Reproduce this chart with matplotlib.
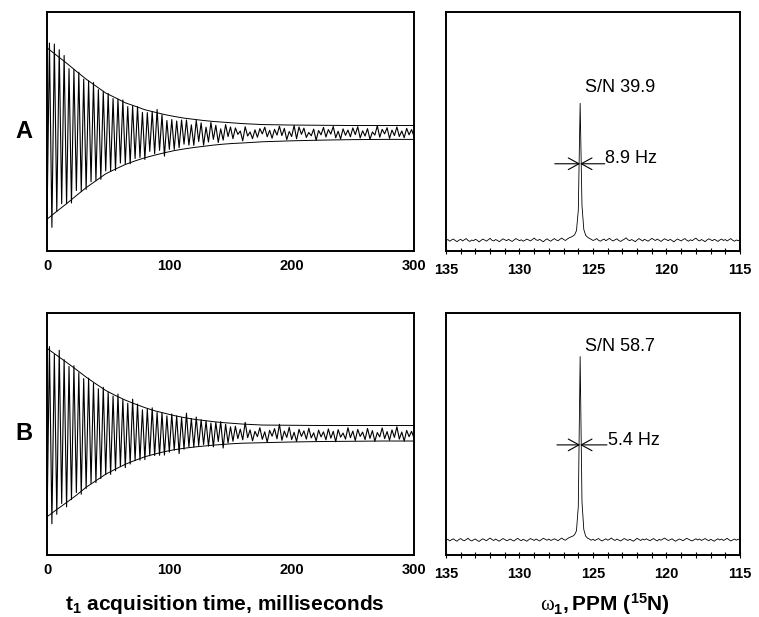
import numpy as np
import matplotlib
matplotlib.use("Agg")
import matplotlib.pyplot as plt

plt.rcParams['font.family'] = ['Liberation Sans', 'DejaVu Sans']
plt.rcParams['mathtext.fontset'] = 'custom'
plt.rcParams['mathtext.rm'] = 'Liberation Serif'
plt.rcParams['mathtext.bf'] = 'Liberation Sans:bold'
plt.rcParams['mathtext.it'] = 'Liberation Sans:italic'

# ---- time domain (FID) data ----
# extremes of the trace, one every 2 ms from 0 to 300 ms
fid_time = np.arange(151) * 2.0
fid_a = [0.116, 0.870, 0.099, 0.866, 0.166, 0.842, 0.198, 0.818, 0.198, 0.763,
         0.201, 0.760, 0.253, 0.748, 0.249, 0.719, 0.258, 0.712, 0.290, 0.705,
         0.294, 0.675, 0.300, 0.668, 0.335, 0.659, 0.333, 0.638, 0.337, 0.636,
         0.368, 0.632, 0.364, 0.604, 0.365, 0.607, 0.387, 0.604, 0.391, 0.580,
         0.383, 0.579, 0.417, 0.584, 0.407, 0.592, 0.421, 0.570, 0.397, 0.546,
         0.425, 0.550, 0.425, 0.544, 0.432, 0.548, 0.447, 0.548, 0.443, 0.528,
         0.442, 0.547, 0.458, 0.536, 0.443, 0.518, 0.456, 0.538, 0.467, 0.526,
         0.454, 0.511, 0.464, 0.529, 0.479, 0.519, 0.470, 0.515, 0.488, 0.502,
         0.461, 0.520, 0.481, 0.498, 0.470, 0.507, 0.476, 0.512, 0.490, 0.518,
         0.478, 0.505, 0.472, 0.509, 0.485, 0.522, 0.483, 0.513, 0.466, 0.500,
         0.479, 0.525, 0.470, 0.519, 0.488, 0.514, 0.475, 0.496, 0.482, 0.510,
         0.463, 0.504, 0.486, 0.517, 0.477, 0.508, 0.489, 0.521, 0.474, 0.501,
         0.469, 0.511, 0.484, 0.506, 0.478, 0.515, 0.487, 0.520, 0.473, 0.503,
         0.481, 0.512, 0.467, 0.498, 0.485, 0.524, 0.476, 0.509, 0.490, 0.516,
         0.471, 0.506, 0.483, 0.519, 0.479, 0.502, 0.474, 0.513, 0.486, 0.508,
         0.480]
fid_b = [0.120, 0.861, 0.129, 0.829, 0.168, 0.846, 0.213, 0.807, 0.199, 0.779,
         0.229, 0.782, 0.258, 0.753, 0.251, 0.729, 0.275, 0.731, 0.295, 0.710,
         0.299, 0.687, 0.316, 0.693, 0.332, 0.673, 0.333, 0.657, 0.348, 0.665,
         0.365, 0.643, 0.361, 0.627, 0.376, 0.644, 0.390, 0.624, 0.392, 0.600,
         0.394, 0.604, 0.410, 0.608, 0.411, 0.589, 0.412, 0.588, 0.413, 0.575,
         0.425, 0.583, 0.433, 0.575, 0.419, 0.568, 0.437, 0.586, 0.446, 0.564,
         0.446, 0.570, 0.452, 0.559, 0.456, 0.554, 0.450, 0.545, 0.447, 0.548,
         0.469, 0.551, 0.442, 0.540, 0.463, 0.530, 0.470, 0.532, 0.481, 0.520,
         0.476, 0.548, 0.485, 0.517, 0.472, 0.511, 0.489, 0.526, 0.478, 0.509,
         0.466, 0.515, 0.491, 0.522, 0.480, 0.540, 0.474, 0.512, 0.486, 0.528,
         0.477, 0.507, 0.469, 0.519, 0.490, 0.513, 0.479, 0.524, 0.484, 0.505,
         0.471, 0.516, 0.488, 0.509, 0.476, 0.521, 0.483, 0.511, 0.468, 0.518,
         0.487, 0.504, 0.479, 0.526, 0.485, 0.512, 0.473, 0.519, 0.490, 0.508,
         0.477, 0.523, 0.482, 0.514, 0.470, 0.506, 0.488, 0.525, 0.481, 0.510,
         0.474, 0.517, 0.486, 0.530, 0.479, 0.508, 0.471, 0.515, 0.489, 0.511,
         0.483]

# decay envelopes
env_time = [0, 8, 16, 24, 32, 40, 48, 56, 64, 72, 80, 88, 96, 104, 112, 120,
            128, 136, 144, 152, 160, 176, 200, 225, 250, 275, 300]
env_a_up = [0.850, 0.818, 0.786, 0.752, 0.719, 0.690, 0.661, 0.641, 0.620, 0.606,
            0.591, 0.581, 0.571, 0.563, 0.556, 0.551, 0.546, 0.542, 0.539, 0.536,
            0.533, 0.529, 0.527, 0.526, 0.525, 0.525, 0.525]
env_a_lo = [0.133, 0.166, 0.198, 0.232, 0.265, 0.294, 0.323, 0.343, 0.362, 0.377,
            0.390, 0.401, 0.411, 0.420, 0.427, 0.433, 0.438, 0.443, 0.447, 0.450,
            0.452, 0.457, 0.461, 0.464, 0.466, 0.467, 0.467]
env_b_up = [0.854, 0.825, 0.796, 0.766, 0.735, 0.707, 0.680, 0.659, 0.640, 0.624,
            0.609, 0.596, 0.586, 0.576, 0.568, 0.561, 0.556, 0.551, 0.547, 0.544,
            0.541, 0.537, 0.536, 0.535, 0.535, 0.535, 0.535]
env_b_lo = [0.158, 0.188, 0.217, 0.247, 0.280, 0.307, 0.334, 0.355, 0.375, 0.391,
            0.406, 0.417, 0.427, 0.435, 0.441, 0.446, 0.450, 0.454, 0.457, 0.460,
            0.462, 0.464, 0.467, 0.469, 0.470, 0.471, 0.471]

# ---- 15N spectra, 135 -> 115 ppm every 0.125 ppm ----
ppm = np.linspace(135, 115, 161)
spec_a = [0.043, 0.048, 0.041, 0.046, 0.050, 0.044, 0.039, 0.045, 0.049, 0.042,
          0.047, 0.052, 0.044, 0.040, 0.046, 0.043, 0.049, 0.045, 0.038, 0.044,
          0.050, 0.046, 0.041, 0.047, 0.053, 0.045, 0.042, 0.048, 0.044, 0.039,
          0.045, 0.051, 0.047, 0.043, 0.049, 0.044, 0.040, 0.046, 0.052, 0.048,
          0.043, 0.047, 0.041, 0.045, 0.050, 0.046, 0.042, 0.048, 0.054, 0.047,
          0.044, 0.049, 0.043, 0.039, 0.046, 0.051, 0.045, 0.041, 0.047, 0.052,
          0.046, 0.043, 0.049, 0.054, 0.048, 0.044, 0.050, 0.055, 0.058, 0.062,
          0.068, 0.085, 0.170, 0.618, 0.190, 0.090, 0.066, 0.058, 0.053, 0.049,
          0.044, 0.047, 0.052, 0.045, 0.041, 0.046, 0.050, 0.043, 0.048, 0.053,
          0.046, 0.042, 0.047, 0.051, 0.044, 0.040, 0.045, 0.049, 0.055, 0.047,
          0.043, 0.048, 0.044, 0.039, 0.046, 0.052, 0.047, 0.042, 0.049, 0.045,
          0.041, 0.047, 0.053, 0.048, 0.044, 0.050, 0.045, 0.040, 0.046, 0.051,
          0.047, 0.043, 0.049, 0.044, 0.038, 0.045, 0.050, 0.046, 0.042, 0.048,
          0.052, 0.045, 0.041, 0.047, 0.043, 0.049, 0.054, 0.046, 0.042, 0.048,
          0.044, 0.039, 0.046, 0.051, 0.047, 0.043, 0.049, 0.045, 0.040, 0.046,
          0.050, 0.044, 0.048, 0.042, 0.047, 0.052, 0.045, 0.041, 0.046, 0.043,
          0.047]
spec_b = [0.060, 0.065, 0.058, 0.063, 0.067, 0.061, 0.057, 0.064, 0.068, 0.062,
          0.059, 0.064, 0.069, 0.062, 0.058, 0.063, 0.066, 0.060, 0.056, 0.062,
          0.067, 0.063, 0.059, 0.065, 0.070, 0.064, 0.060, 0.066, 0.061, 0.057,
          0.063, 0.068, 0.064, 0.059, 0.062, 0.066, 0.061, 0.058, 0.064, 0.069,
          0.063, 0.059, 0.065, 0.061, 0.057, 0.063, 0.068, 0.064, 0.060, 0.066,
          0.062, 0.058, 0.064, 0.069, 0.065, 0.061, 0.066, 0.060, 0.063, 0.067,
          0.063, 0.059, 0.065, 0.070, 0.064, 0.061, 0.067, 0.072, 0.075, 0.078,
          0.084, 0.100, 0.200, 0.820, 0.220, 0.105, 0.078, 0.070, 0.066, 0.061,
          0.065, 0.060, 0.064, 0.068, 0.062, 0.058, 0.063, 0.067, 0.061, 0.065,
          0.070, 0.064, 0.060, 0.066, 0.062, 0.058, 0.063, 0.068, 0.064, 0.060,
          0.065, 0.061, 0.057, 0.063, 0.069, 0.064, 0.060, 0.066, 0.062, 0.067,
          0.063, 0.059, 0.064, 0.068, 0.062, 0.058, 0.065, 0.061, 0.066, 0.070,
          0.064, 0.060, 0.063, 0.067, 0.061, 0.057, 0.062, 0.066, 0.063, 0.059,
          0.064, 0.069, 0.065, 0.061, 0.058, 0.063, 0.067, 0.062, 0.066, 0.060,
          0.064, 0.068, 0.063, 0.059, 0.065, 0.061, 0.057, 0.063, 0.067, 0.062,
          0.066, 0.060, 0.064, 0.069, 0.063, 0.058, 0.062, 0.066, 0.061, 0.065,
          0.063]

# annotations: label, S/N text, linewidth text, peak ppm, half height y, text y's
panel_labels = ['A', 'B']
sn_text = ['S/N 39.9', 'S/N 58.7']
hz_text = ['8.9 Hz', '5.4 Hz']
peak_ppm = 125.875
half_y = [0.365, 0.455]
sn_y = [0.685, 0.86]
hz_y = [0.385, 0.475]
bar_left = [127.6, 127.45]
bar_right = [124.2, 124.05]

W, H = 759, 617
fig = plt.figure(figsize=(W / 100, H / 100), dpi=100)

def box(x0, y0, x1, y1):
    return [x0 / W, 1 - y1 / H, (x1 - x0) / W, (y1 - y0) / H]

rows = [(12, 251), (313, 555)]
fids = [fid_a, fid_b]
envs = [(env_a_up, env_a_lo), (env_b_up, env_b_lo)]
specs = [spec_a, spec_b]
head = '->, head_length=0.55, head_width=0.3'

for r, (top, bot) in enumerate(rows):
    # left: FID
    ax = fig.add_axes(box(47, top, 414, bot))
    ax.plot(fid_time, fids[r], color='black', lw=0.8)
    ax.plot(env_time, envs[r][0], color='black', lw=0.7)
    ax.plot(env_time, envs[r][1], color='black', lw=0.7)
    ax.set_xlim(0, 300)
    ax.set_ylim(0, 1)
    ax.set_yticks([])
    ax.set_xticks([0, 100, 200, 300])
    ax.tick_params(axis='x', length=0, pad=6, labelsize=10.5)
    for lab in ax.get_xticklabels():
        lab.set_fontweight('bold')
    for s in ax.spines.values():
        s.set_linewidth(1.4)

    fig.text(24 / W, 1 - ((top + bot) / 2) / H, panel_labels[r],
             fontsize=17, fontweight='bold', ha='center', va='center')

    # right: spectrum
    ax2 = fig.add_axes(box(446, top, 740, bot))
    ax2.plot(ppm, specs[r], color='black', lw=0.6)
    ax2.set_xlim(135, 115)
    ax2.set_ylim(0, 1)
    ax2.set_yticks([])
    ax2.set_xticks([135, 130, 125, 120, 115])
    ax2.set_xticks(np.arange(115, 136, 1), minor=True)
    ax2.tick_params(axis='x', which='both', direction='inout', length=5,
                    width=0.8, pad=6, labelsize=10.5)
    for lab in ax2.get_xticklabels():
        lab.set_fontweight('bold')
    for s in ax2.spines.values():
        s.set_linewidth(1.4)

    # linewidth marker: two arrows meeting at the peak
    y = half_y[r]
    ax2.annotate('', xy=(peak_ppm, y), xytext=(bar_left[r], y),
                 arrowprops=dict(arrowstyle=head, lw=0.8, color='black',
                                 shrinkA=0, shrinkB=0, mutation_scale=14))
    ax2.annotate('', xy=(peak_ppm, y), xytext=(bar_right[r], y),
                 arrowprops=dict(arrowstyle=head, lw=0.8, color='black',
                                 shrinkA=0, shrinkB=0, mutation_scale=14))
    ax2.text(125.55, sn_y[r], sn_text[r], fontsize=13, ha='left', va='center')
    ax2.text(bar_right[r] - 0.05, hz_y[r], hz_text[r], fontsize=13,
             ha='left', va='center')

fig.text(225 / W, 1 - 604 / H,
         r'$\mathbf{t}_{\mathbf{1}}$' + ' acquisition time, milliseconds',
         fontsize=15, fontweight='bold', ha='center', va='center')
fig.text(605 / W, 1 - 604 / H,
         r'$\mathrm{\omega}_{\mathbf{1}}\mathbf{,PPM\ (}^{\mathbf{15}}\mathbf{N)}$',
         fontsize=15, ha='center', va='center')

fig.savefig('out.png', dpi=100)
